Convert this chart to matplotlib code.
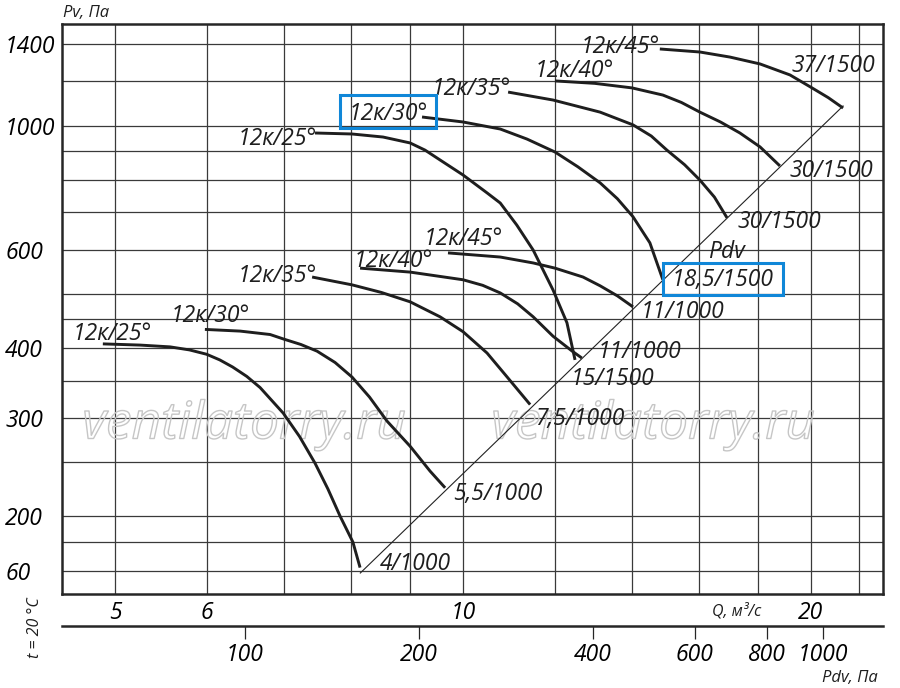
import numpy as np
import matplotlib
matplotlib.use("Agg")
import matplotlib.pyplot as plt
from matplotlib import font_manager as fm
from matplotlib import patheffects as pe
from matplotlib.patches import Rectangle
from matplotlib.ticker import NullFormatter

# ---------------- data ----------------
K_PDV = 2.385            # dynamic pressure Pdv = K * Q^2 (Pa, Q in m3/s)

# lower family (motor x/1000)
q_l25 = [4.88, 5.255, 5.58, 5.80, 6.0, 6.16, 6.32, 6.50, 6.675, 6.99, 7.22, 7.447, 7.64, 7.83, 8.03, 8.146]
p_l25 = [407, 405, 402, 397, 390, 381, 370, 356, 340, 306, 278, 249, 224, 200, 180, 162]
q_l30 = [5.98, 6.415, 6.81, 7.0, 7.24, 7.477, 7.75, 8.017, 8.30, 8.597, 9.0, 9.365, 9.65]
p_l30 = [432, 429, 423, 415, 406, 395, 377, 355, 327, 296, 267, 241, 225]
q_l35 = [7.404, 8.017, 8.50, 9.0, 9.553, 10.0, 10.49, 10.92, 11.43]
p_l35 = [536, 519, 503, 484, 455, 428, 392, 355, 317]
q_l40 = [8.146, 9.0, 10.0, 10.40, 10.77, 11.15, 11.50, 11.965, 12.43, 12.67]
p_l40 = [556, 547, 530, 518, 502, 480, 455, 420, 395, 384]
q_l45 = [9.705, 10.77, 11.50, 12.01, 12.70, 13.14, 13.60, 14.03]
p_l45 = [592, 582, 568, 556, 536, 517, 496, 474]

# upper family (motor x/1500)
q_u25 = [7.447, 8.017, 8.527, 9.0, 9.271, 9.553, 10.0, 10.49, 10.77, 11.13, 11.50, 11.965, 12.30, 12.50]
p_u25 = [970, 966, 954, 931, 904, 868, 816, 758, 727, 664, 599, 508, 444, 381]
q_u30 = [9.216, 10.0, 10.77, 11.36, 12.01, 12.57, 13.14, 13.60, 14.03, 14.51, 14.89]
p_u30 = [1036, 1015, 986, 946, 897, 844, 790, 740, 687, 617, 530]
q_u35 = [10.94, 11.965, 13.14, 14.03, 14.55, 15.01, 15.55, 16.03, 16.50, 16.92]
p_u35 = [1148, 1111, 1057, 1003, 958, 904, 851, 799, 745, 684]
q_u40 = [12.01, 13.0, 14.0, 14.89, 15.45, 16.03, 16.70, 17.36, 18.07, 18.80]
p_u40 = [1202, 1190, 1168, 1134, 1100, 1057, 1015, 970, 916, 847]
q_u45 = [14.80, 16.03, 17.02, 18.07, 19.18, 20.04, 20.70, 21.32]
p_u45 = [1371, 1354, 1326, 1289, 1232, 1168, 1122, 1075]

pdv_line_q = [8.15, 21.32]   # extent of the Pdv (dynamic pressure) line

curve_labels = ["12к/25°", "12к/30°", "12к/35°", "12к/40°", "12к/45°"]
lower_end_labels = ["4/1000", "5,5/1000", "7,5/1000", "11/1000", "11/1000"]
upper_end_labels = ["15/1500", "18,5/1500", "30/1500", "30/1500", "37/1500"]

y_major = [160, 200, 300, 400, 600, 1000, 1400]
y_major_labels = ["60", "200", "300", "400", "600", "1000", "1400"]
y_minor = [180, 250, 350, 450, 500, 700, 800, 900, 1200]
x_major = [5, 6, 10, 20]
x_major_labels = ["5", "6", "10", "20"]
x_minor = [7, 8, 9, 12, 14, 16, 18, 22]
pdv_ticks = [100, 200, 400, 600, 800, 1000]
pdv_tick_labels = ["100", "200", "400", "600", "800", "1000"]

# ---------------- fonts ----------------
def pick_family():
    styles = {}
    for f in fm.fontManager.ttflist:
        styles.setdefault(f.name, set()).add(f.style)
    for n in ["Open Sans", "Noto Sans", "Lato", "Roboto", "Liberation Sans"]:
        if n in styles and ("italic" in styles[n] or "oblique" in styles[n]):
            return n
    return "DejaVu Sans"

FAM = [pick_family(), "DejaVu Sans"]
plt.rcParams["font.family"] = FAM

def fp(size, style="italic"):
    return fm.FontProperties(family=FAM, style=style, size=size)

W, H = 900, 688
fig = plt.figure(figsize=(9.0, 6.88), dpi=100)
ax = fig.add_axes([62 / W, 1 - 594 / H, (883 - 62) / W, (594 - 24) / H])

ax.set_xscale("log")
ax.set_yscale("log")
ax.set_xlim(4.4987, 23.085)
ax.set_ylim(145.3, 1519.5)

LINE = "#1e1e1e"
curves = [(q_l25, p_l25), (q_l30, p_l30), (q_l35, p_l35), (q_l40, p_l40), (q_l45, p_l45),
          (q_u25, p_u25), (q_u30, p_u30), (q_u35, p_u35), (q_u40, p_u40), (q_u45, p_u45)]
for q, p in curves:
    ax.plot(q, p, color=LINE, lw=2.1, solid_joinstyle="round", solid_capstyle="butt", zorder=3)

qd = np.array(pdv_line_q)
ax.plot(qd, K_PDV * qd ** 2, color="#222222", lw=0.8, zorder=2.5)

# ticks & grid
ax.set_xticks(x_major)
ax.set_xticklabels(x_major_labels, fontproperties=fp(16.5))
ax.set_xticks(x_minor, minor=True)
ax.xaxis.set_minor_formatter(NullFormatter())
ax.set_yticks(y_major)
ax.set_yticklabels(y_major_labels, fontproperties=fp(16.5))
ax.set_yticks(y_minor, minor=True)
ax.yaxis.set_minor_formatter(NullFormatter())
ax.tick_params(axis="both", which="both", length=0)
ax.tick_params(axis="x", pad=5)
ax.tick_params(axis="y", pad=41)
for lbl in ax.get_yticklabels():
    lbl.set_horizontalalignment("left")
ax.grid(True, which="both", color="#3a3a3a", lw=0.9)
ax.set_axisbelow(True)
for s in ax.spines.values():
    s.set_linewidth(1.8)
    s.set_color("#262626")

# secondary Pdv axis
sec = ax.secondary_xaxis(-(626 - 594) / 570,
                         functions=(lambda q: K_PDV * np.asarray(q) ** 2,
                                    lambda p: np.sqrt(np.clip(np.asarray(p), 1e-9, None) / K_PDV)))
sec.set_xticks(pdv_ticks)
sec.set_xticklabels(pdv_tick_labels, fontproperties=fp(16.5))
sec.xaxis.set_minor_locator(matplotlib.ticker.NullLocator())
sec.tick_params(axis="x", direction="out", length=9, width=0.9, pad=3, color="#262626")
sec.spines["bottom"].set_linewidth(1.8)
sec.spines["bottom"].set_color("#262626")

def ftext(x, y, s, size, ha="center", va="baseline", rot=0, **kw):
    ax.text(x / W, 1 - y / H, s, transform=fig.transFigure, fontproperties=fp(size),
            ha=ha, va=va, rotation=rot, color="#1e1e1e", clip_on=False, zorder=4, **kw)

# watermarks
for cx in (244, 653):
    ax.text(cx / W, 1 - 425 / H, "ventilatorry.ru", transform=fig.transFigure,
            fontproperties=fp(37), ha="center", va="center", color=(1, 1, 1, 0),
            zorder=1.5, clip_on=False,
            path_effects=[pe.Stroke(linewidth=1.0, foreground="#c6c6c6")])

# curve labels (upper family)
for s, (x, y) in zip(curve_labels, [(277, 145), (388, 120), (471, 95), (574, 77), (620, 53)]):
    ftext(x, y, s, 16.5)
# curve labels (lower family)
for s, (x, y) in zip(curve_labels, [(112, 340), (210, 322), (277, 282), (393, 267), (463, 245)]):
    ftext(x, y, s, 16.5)
# motor labels
for s, (x, y) in zip(lower_end_labels, [(415, 570), (498, 500), (580, 425), (640, 358), (683, 318)]):
    ftext(x, y, s, 16.5)
for s, (x, y) in zip(upper_end_labels, [(613, 385), (723, 286), (779, 228), (831, 177), (833, 72)]):
    ftext(x, y, s, 16.5)
ftext(726, 258, "Pdv", 16.5)

# axis captions
ftext(86, 17, "Pv, Па", 12)
ftext(737, 615, "Q, м³/с", 11.5)
ftext(850, 682, "Pdv, Па", 12)
ftext(35, 628, "t = 20 °C", 11.5, va="center", rot=90)

# blue highlight boxes
for (x0, y0, x1, y1) in [(340, 95, 436, 128), (663, 263, 783, 295)]:
    fig.add_artist(Rectangle((x0 / W, 1 - y1 / H), (x1 - x0) / W, (y1 - y0) / H,
                             transform=fig.transFigure, fill=False, lw=2.2,
                             edgecolor="#1087d8", zorder=6))

fig.savefig("out.png", dpi=100)
